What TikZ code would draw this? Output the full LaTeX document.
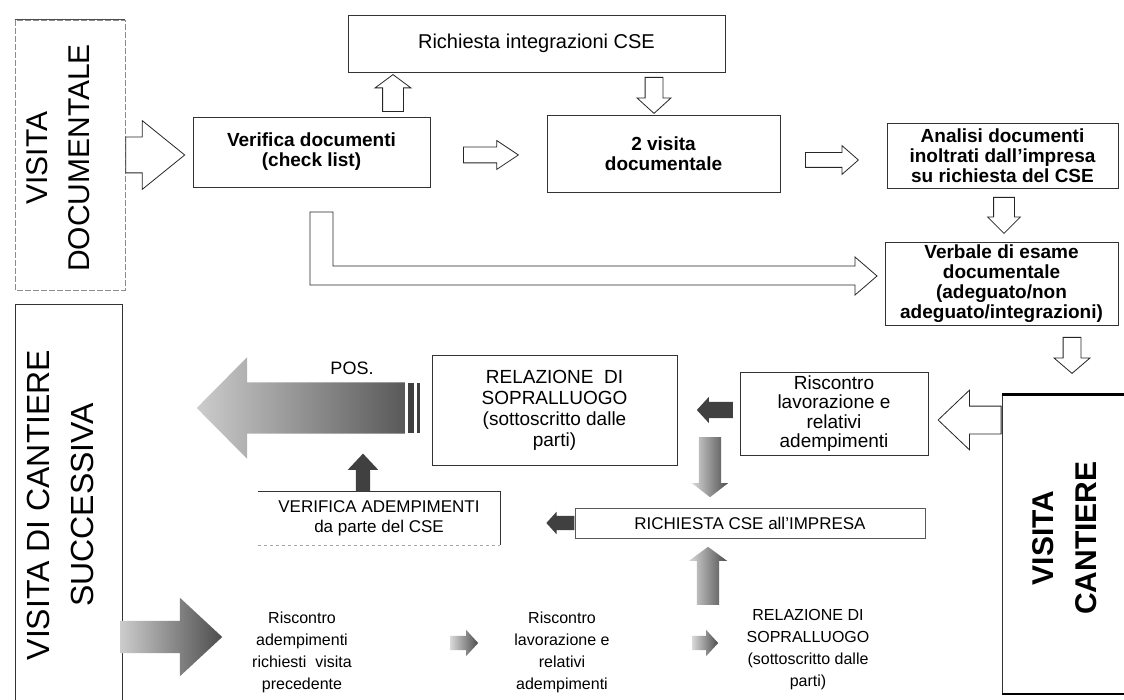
\documentclass[tikz,border=0pt]{standalone}
\usepackage{fontspec}
\setmainfont{Liberation Sans}
\usetikzlibrary{shapes.arrows}
\tikzset{
  box/.style={draw=black!80, line width=0.9pt, fill=white, align=center, inner sep=2pt},
  boldtxt/.style={font=\fontsize{19}{20}\selectfont\bfseries},
  plaintxt/.style={font=\fontsize{19}{20.5}\selectfont},
  bigtxt/.style={rotate=90, align=center, inner sep=0pt},
  % lunghezza / larghezza punta / larghezza asta / lunghezza punta
  blockarr/.style n args={4}{single arrow, inner sep={#3/2}, minimum height=#1,
      minimum width=#2, single arrow head extend={(#2-#3)/2},
      single arrow tip angle={2*atan(#2/(2*#4))}},
  hollow/.style={draw=black!85, line width=0.8pt, fill=white},
  darkarr/.style={fill=black!75},
  grayarr/.style={left color=black!15, right color=black!70},
}
\begin{document}
\begin{tikzpicture}[x=1pt,y=-1pt]
\useasboundingbox (0,0) rectangle (1124,700);
\fill[white] (0,0) rectangle (1124,700);

% ---- visita documentale
\node[box, rotate=90, minimum width=270, minimum height=110, draw=black!45, line width=0.6pt,
      dash pattern=on 6pt off 2pt] (visdoc) at (70,155) {};
\draw[black!70, line width=1pt] (visdoc.north east) -- (visdoc.south east);% bordo basso
\node[bigtxt, font=\fontsize{30}{42}\selectfont] (visdoctxt) at (58,158) {VISITA\\DOCUMENTALE};
\node[box, boldtxt, minimum width=237, minimum height=70] (verif) at (311.5,152) {Verifica documenti\\(check list)};
\node[box, font=\fontsize{20}{22}\selectfont, minimum width=377, minimum height=57] (richint) at (536.5,43.5) {Richiesta integrazioni CSE};
\node[box, boldtxt, minimum width=233, minimum height=77] (visita2) at (663.5,153.5) {2 visita\\documentale};
\node[box, boldtxt, minimum width=231, minimum height=65] (analisi) at (1002.5,155.5) {Analisi documenti\\inoltrati dall'impresa\\su richiesta del CSE};
\node[box, boldtxt, minimum width=233, minimum height=83] (verbale) at (1001.5,283.5) {Verbale di esame\\documentale\\(adeguato/non\\adeguato/integrazioni)};

\node[hollow, blockarr={59}{68}{35}{42}, anchor=tail] (a0) at (visdoc.south) {};
\node[hollow, blockarr={37}{35}{20}{13}, shape border rotate=90, anchor=tail] (a1) at (393,112) {};
\node[hollow, blockarr={36}{33}{17}{15}, shape border rotate=270, anchor=tail] (a2) at (654,77) {};
\node[hollow, blockarr={55}{28}{15}{21}, anchor=tail] (a3) at (463,155) {};
\node[hollow, blockarr={53}{28}{14}{16}, anchor=tail] (a4) at (805,160) {};
\node[hollow, blockarr={36}{32}{20}{16}, shape border rotate=270, anchor=tail] (a5) at (1004,197) {};
\node[hollow, blockarr={36}{35}{17}{15}, shape border rotate=270, anchor=tail] (a6) at (1072,337) {};
% freccia a L verso il verbale
\draw[hollow] (310,212) -- (333,212) -- (333,266) -- (855,266) -- (855,257) -- (877,276)
   -- (855,295) -- (855,285) -- (310,285) -- cycle;

% ---- visita di cantiere
\node[box, rotate=90, minimum width=415, minimum height=107, line width=1pt] (viscantsucc) at (68.5,512.5) {};
\node[bigtxt, font=\fontsize{32}{44}\selectfont] (viscantsucctxt) at (60,505) {VISITA DI CANTIERE\\SUCCESSIVA};
\node[box, rotate=90, minimum width=298, minimum height=140, line width=1pt] (viscant) at (1072,544) {};
\node[bigtxt, font=\fontsize{30}{43}\selectfont\bfseries] (viscanttxt) at (1064.5,538) {VISITA\\CANTIERE};
\draw[line width=2pt] (viscant.south west) -- (viscant.north west);% bordo alto
\draw[line width=3pt] (viscant.south east) -- (viscant.north east);

\node[box, font=\fontsize{19}{19.5}\selectfont, minimum width=188, minimum height=83] (risclav) at (834,413.5) {Riscontro\\lavorazione e\\relativi\\adempimenti};
\node[box, font=\fontsize{19}{21}\selectfont, minimum width=245, minimum height=110] (relaz) at (554.5,410) {RELAZIONE\ \ DI\\SOPRALLUOGO\\(sottoscritto dalle\\parti)};
\node[font=\fontsize{17}{20}\selectfont, align=center, minimum width=242, minimum height=53] (verifad) at (379,518.5) {VERIFICA ADEMPIMENTI\\da parte del CSE};
\draw[black!80, line width=0.9pt] (verifad.north west) -- (verifad.north east) -- (verifad.south east);
\draw[black!35, dashed] (verifad.south west) -- (verifad.south east);
\node[box, font=\fontsize{17}{20}\selectfont, draw=black!65, minimum width=350, minimum height=30] (richimp) at (750,523) {RICHIESTA CSE all'IMPRESA};

\node[hollow, blockarr={63}{59}{27}{31}, shape border rotate=180, anchor=tail] (a7) at (viscant.north |- 0,420) {};
\node[darkarr, blockarr={36}{26}{16}{12}, shape border rotate=180, anchor=tail] (a8) at (733,410) {};
\node[grayarr, blockarr={60}{36}{22}{14}, shape border rotate=270, anchor=tail] (a9) at (710,437) {};
\node[grayarr, blockarr={58}{38}{22}{14}, shape border rotate=90, anchor=tail] (a10) at (708,605) {};
\node[darkarr, blockarr={28}{22}{14}{10}, shape border rotate=180, anchor=tail] (a11) at (richimp.west) {};
\node[darkarr, blockarr={38}{30}{14}{16}, shape border rotate=90, anchor=tail] (a12) at ([xshift=-16pt]verifad.north) {};

% freccia grande POS.
\node[left color=black!20, right color=black!65, blockarr={208}{101}{51}{50}, shape border rotate=180,
      anchor=tail] (posarr) at (405,408) {};
\fill[black!75] (408,383) rectangle (414,433);
\fill[black!75] (417,383) rectangle (420,433);
\node[font=\fontsize{18}{21}\selectfont] (pos) at (352,368) {POS.};

% ---- riga in basso
\node[align=center, font=\fontsize{16}{22}\selectfont] (riscad) at (302,652) {Riscontro\\adempimenti\\richiesti\ \ visita\\precedente};
\node[align=center, font=\fontsize{16}{22}\selectfont] (risclavb) at (562,652) {Riscontro\\lavorazione e\\relativi\\adempimenti};
\node[align=center, font=\fontsize{16}{22}\selectfont] (relazb) at (808,650) {RELAZIONE DI\\SOPRALLUOGO\\(sottoscritto dalle\\parti)};
\node[left color=black!20, right color=black!70, blockarr={102}{78}{32}{42}, anchor=tail] (a13) at (120,637) {};
\node[grayarr, blockarr={28}{26}{14}{12}, anchor=tail] (a14) at (450,643) {};
\node[grayarr, blockarr={26}{26}{14}{12}, anchor=tail] (a15) at (692,643) {};
\end{tikzpicture}
\end{document}
